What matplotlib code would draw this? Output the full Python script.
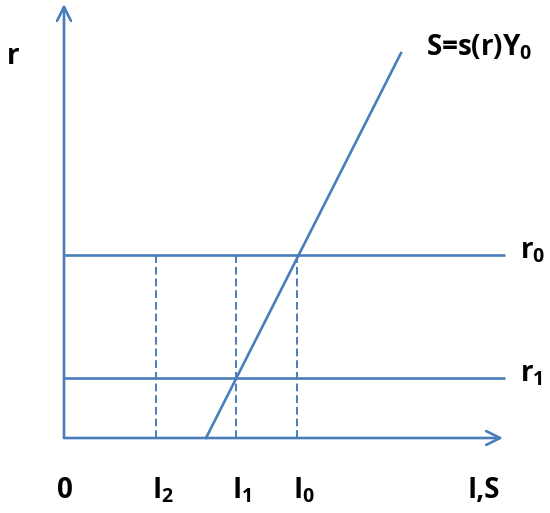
import matplotlib
matplotlib.use('Agg')
import matplotlib.pyplot as plt

# Шрифт, похожий на Calibri Bold
plt.rcParams['font.family'] = 'Open Sans'
plt.rcParams['font.weight'] = 'bold'
plt.rcParams['mathtext.fontset'] = 'custom'
plt.rcParams['mathtext.rm'] = 'Open Sans:bold'
plt.rcParams['mathtext.it'] = 'Open Sans:bold'
plt.rcParams['mathtext.bf'] = 'Open Sans:bold'

BLUE = '#4a7ebb'

# Уровни ставки процента
r_levels = [183, 60]
r_labels = ['r$_0$', 'r$_1$']

# Инвестиции на оси I,S
invest = [92, 172, 233]
invest_labels = ['I$_2$', 'I$_1$', 'I$_0$']

# Кривая сбережений S = s(r)Y0
s_x = [142, 337]
s_y = [0, 385]

x_axis_end = 439
y_axis_end = 434
line_end = 441

fig = plt.figure(figsize=(5.5, 5.13), dpi=100)
ax = fig.add_axes([0, 0, 1, 1])
ax.set_xlim(-64, 486)
ax.set_ylim(-75, 438)
ax.axis('off')

arrow = dict(arrowstyle='->,head_length=1.0,head_width=0.5', lw=1.9,
             color=BLUE, shrinkA=0, shrinkB=0)
ax.annotate('', xy=(0, y_axis_end), xytext=(0, 0), arrowprops=arrow)
ax.annotate('', xy=(x_axis_end, 0), xytext=(0, 0), arrowprops=arrow)

# Горизонтальные линии r0, r1
for r, lab in zip(r_levels, r_labels):
    ax.plot([0, line_end], [r, r], color=BLUE, lw=1.9, solid_capstyle='butt')
    ax.text(456, r - 3, lab, fontsize=20, ha='left', va='baseline')

# Пунктирные вертикали
for i, lab in zip(invest, invest_labels):
    ax.plot([i, i], [0, r_levels[0]], color=BLUE, lw=1.4, ls=(0, (4, 2)))
    ax.text(i - 4, -60, lab, fontsize=20, ha='left', va='baseline')

# Кривая сбережений
ax.plot(s_x, s_y, color=BLUE, lw=1.9)
ax.text(362, 383, 'S=s(r)Y$_0$', fontsize=20, ha='left', va='baseline')

ax.text(-51, 381, 'r', fontsize=20, ha='center', va='center')
ax.text(1, -60, '0', fontsize=20, ha='center', va='baseline')
ax.text(403, -60, 'I,S', fontsize=20, ha='left', va='baseline')

plt.savefig('out.png', dpi=100)
plt.close()
